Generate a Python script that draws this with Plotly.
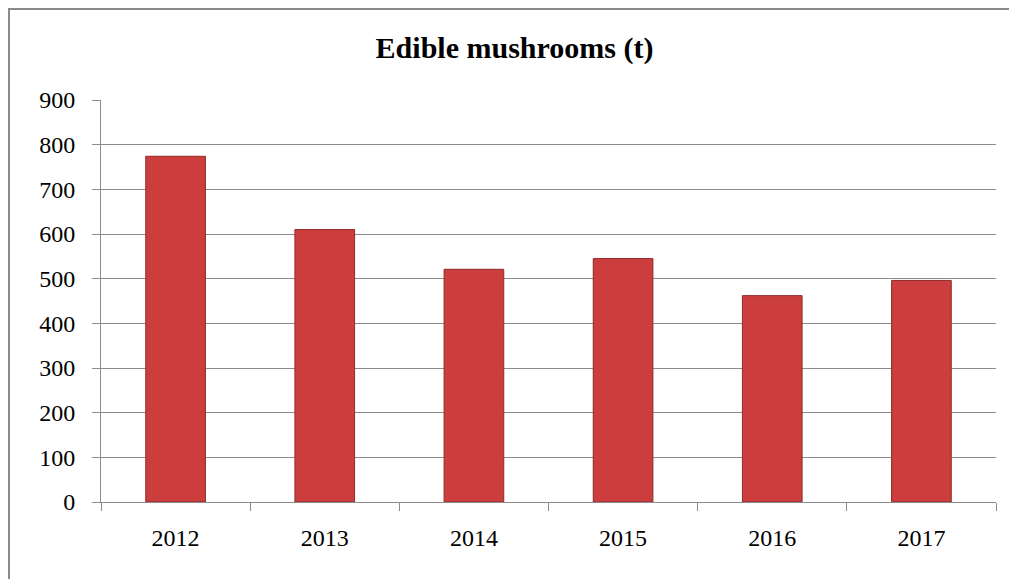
import plotly.graph_objects as go

years = ["2012", "2013", "2014", "2015", "2016", "2017"]
tonnes = [774, 610, 521, 545, 462, 496]
y_ticks = [0, 100, 200, 300, 400, 500, 600, 700, 800, 900]

# page body has an 8px margin; figure is drawn starting at (8, 8)
W, H = 1009, 571
L, R, T, B = 93, 21, 92, 77

fig = go.Figure()
fig.add_trace(go.Bar(
    x=years, y=tonnes,
    marker=dict(color="#CC3E3D", line=dict(color="#8E2B2A", width=1)),
    width=0.4,
))

fig.update_layout(
    width=W, height=H,
    margin=dict(l=L, r=R, t=T, b=B),
    paper_bgcolor="white", plot_bgcolor="white",
    showlegend=False,
    font=dict(family="Liberation Serif, Times New Roman, serif", color="black", size=24),
    title=dict(text="<b>Edible mushrooms (t)</b>", x=0.502, xanchor="center",
               y=1 - 39 / H, yanchor="middle",
               font=dict(family="Liberation Serif, Times New Roman, serif", size=30, color="black")),
    xaxis=dict(type="category", showline=True, linecolor="#8c8c8c", linewidth=1,
               ticks="outside", tickson="boundaries", ticklen=8, tickcolor="#8c8c8c",
               showgrid=False, tickfont=dict(size=24), ticklabelstandoff=14),
    yaxis=dict(range=[0, 900], tickvals=y_ticks, showline=True, linecolor="#8c8c8c",
               linewidth=1, ticks="outside", ticklen=8, tickcolor="#8c8c8c",
               showgrid=True, gridcolor="#8c8c8c", gridwidth=1, zeroline=False,
               tickfont=dict(size=24), ticklabelstandoff=12),
    shapes=[dict(type="rect", xref="paper", yref="paper",
                 x0=-(L - 1) / (W - L - R), x1=1 + (R + 20) / (W - L - R),
                 y0=-(B + 20) / (H - T - B), y1=1 + (T - 1) / (H - T - B),
                 line=dict(color="#8a8a8a", width=2), fillcolor="rgba(0,0,0,0)",
                 layer="below")],
)

fig.write_html("out.html")
